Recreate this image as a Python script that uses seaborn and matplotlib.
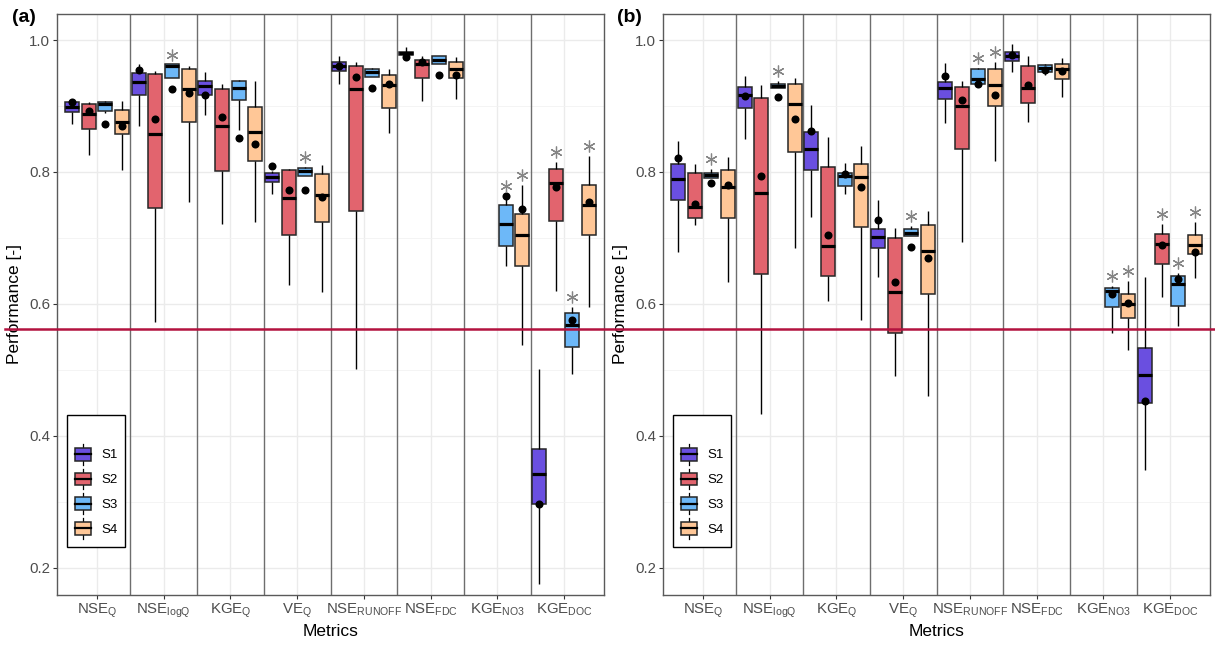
import numpy as np
import pandas as pd
import matplotlib
matplotlib.use("Agg")
import matplotlib.pyplot as plt
import seaborn as sns
from matplotlib.lines import Line2D
from matplotlib.patches import Rectangle
from matplotlib.legend_handler import HandlerBase
from matplotlib.ticker import MultipleLocator, FormatStrFormatter

nan = np.nan

metrics = ["NSE_Q", "NSE_logQ", "KGE_Q", "VE_Q", "NSE_RUNOFF", "NSE_FDC", "KGE_NO3", "KGE_DOC"]
metric_labels = ["NSE$_{Q}$", "NSE$_{logQ}$", "KGE$_{Q}$", "VE$_{Q}$",
                 "NSE$_{RUNOFF}$", "NSE$_{FDC}$", "KGE$_{NO3}$", "KGE$_{DOC}$"]
scenarios = ["S1", "S2", "S3", "S4"]
colors = ["#6A4FE0", "#E2646E", "#6DB8F8", "#FFC797"]

# ---- panel (a): five-number summaries per metric (rows) and scenario (columns)
a_low = [[.873, .826, .890, .803], [.869, .572, .943, .754], [.886, .721, .864, .724],
         [.767, .628, .794, .618], [.934, .501, .944, .859], [.975, .908, .963, .911],
         [nan, nan, .658, .538], [.176, .620, .4935, .595]]
a_q1 = [[.8905, .8656, .892, .857], [.917, .746, .943, .875], [.916, .802, .909, .816],
        [.785, .705, .794, .724], [.953, .741, .944, .897], [.977, .942, .963, .943],
        [nan, nan, .688, .657], [.2965, .726, .535, .705]]
a_med = [[.899, .888, .9026, .875], [.936, .857, .960, .926], [.931, .870, .928, .861],
         [.793, .761, .802, .765], [.960, .926, .952, .932], [.980, .963, .969, .956],
         [nan, nan, .721, .705], [.343, .784, .568, .750]]
a_q3 = [[.9056, .9026, .9056, .894], [.950, .948, .963, .956], [.938, .925, .938, .898],
        [.799, .803, .806, .797], [.966, .960, .956, .947], [.982, .970, .975, .966],
        [nan, nan, .750, .737], [.380, .804, .587, .780]]
a_high = [[.908, .906, .907, .908], [.963, .953, .963, .961], [.952, .933, .939, .938],
          [.801, .805, .807, .811], [.975, .966, .957, .956], [.989, .976, .976, .974],
          [nan, nan, .764, .780], [.5015, .815, .596, .824]]
a_mean = [[.906, .892, .873, .869], [.955, .881, .926, .920], [.917, .884, .852, .842],
          [.809, .772, .772, .762], [.961, .944, .928, .934], [.974, .966, .947, .947],
          [nan, nan, .764, .744], [.297, .777, .575, .755]]
a_signif = [[0, 0, 0, 0], [0, 0, 1, 0], [0, 0, 0, 0], [0, 0, 1, 0],
            [0, 0, 0, 0], [0, 0, 0, 0], [0, 0, 1, 1], [0, 1, 1, 1]]

# ---- panel (b)
b_low = [[.678, .719, .791, .634], [.850, .433, .927, .6844], [.7323, .6045, .766, .5758],
         [.641, .491, .703, .461], [.874, .6944, .934, .817], [.951, .875, .947, .913],
         [nan, nan, .5556, .530], [.3485, .611, .5671, .639]]
b_q1 = [[.757, .730, .791, .730], [.897, .646, .927, .831], [.8036, .643, .779, .7167],
        [.685, .5565, .703, .6157], [.910, .835, .934, .8995], [.9687, .904, .951, .941],
        [nan, nan, .596, .5783], [.4505, .6606, .597, .6758]]
b_med = [[.789, .7465, .795, .778], [.916, .768, .930, .9035], [.835, .6883, .7945, .792],
         [.7015, .6177, .707, .680], [.927, .900, .9404, .932], [.9758, .927, .957, .956],
         [nan, nan, .620, .600], [.4924, .6914, .6298, .690]]
b_q3 = [[.8126, .7985, .7985, .803], [.929, .912, .933, .933], [.860, .808, .7985, .8117],
        [.714, .6995, .7132, .719], [.936, .929, .956, .9556], [.982, .9606, .962, .963],
        [nan, nan, .6238, .6147], [.5338, .7056, .643, .7045]]
b_high = [[.8465, .8126, .804, .822], [.946, .932, .938, .943], [.9015, .8525, .813, .8394],
          [.757, .7152, .718, .7414], [.9657, .938, .957, .9667], [.9935, .976, .963, .9722],
          [nan, nan, .627, .635], [.641, .7207, .6474, .7247]]
b_mean = [[.821, .752, .783, .781], [.9157, .7945, .914, .881], [.8626, .7045, .797, .777],
          [.728, .6333, .687, .669], [.945, .909, .933, .917], [.977, .932, .9545, .953],
          [nan, nan, .615, .601], [.4535, .689, .6374, .6793]]
b_signif = [[0, 0, 1, 0], [0, 0, 1, 0], [0, 0, 0, 0], [0, 0, 1, 0],
            [0, 0, 1, 1], [0, 0, 0, 0], [0, 0, 1, 1], [0, 1, 1, 1]]

DODGE_WIDTH = 1.0          # total width shared by the four boxes of one metric
POINT_DODGE = DODGE_WIDTH * (len(scenarios) - 1) / len(scenarios)

plt.rcParams["font.family"] = ["Liberation Sans", "DejaVu Sans"]
plt.rcParams["mathtext.default"] = "regular"


def box_frame(low, q1, med, q3, high):
    rows = []
    for i, m in enumerate(metrics):
        for j, s in enumerate(scenarios):
            vals = [low[i][j], q1[i][j], med[i][j], q3[i][j], high[i][j]]
            if np.isnan(vals[0]):
                continue
            for v in vals:
                rows.append((m, s, v))
    return pd.DataFrame(rows, columns=["metric", "scenario", "value"])


def mean_frame(mean):
    rows = [(m, s, mean[i][j]) for i, m in enumerate(metrics)
            for j, s in enumerate(scenarios) if not np.isnan(mean[i][j])]
    return pd.DataFrame(rows, columns=["metric", "scenario", "value"])


class BoxHandler(HandlerBase):
    """Legend key drawn as a small box-and-whisker glyph."""
    def create_artists(self, legend, orig_handle, xdescent, ydescent,
                       width, height, fontsize, trans):
        x0, y0 = -xdescent, -ydescent
        cx = x0 + width / 2
        whisk = Line2D([cx, cx], [y0, y0 + height],
                       color="black", lw=0.9, transform=trans)
        rect = Rectangle((x0, y0 + 0.2 * height), width, 0.6 * height,
                         facecolor=orig_handle.get_facecolor(),
                         edgecolor="#262626", lw=1.1, transform=trans)
        med = Line2D([x0, x0 + width], [y0 + 0.5 * height] * 2,
                     color="black", lw=1.6, transform=trans)
        return [whisk, rect, med]


def draw_panel(ax, low, q1, med, q3, high, mean, signif):
    ax.set_axisbelow(True)
    palette = dict(zip(scenarios, colors))
    sns.boxplot(data=box_frame(low, q1, med, q3, high), x="metric", y="value",
                hue="scenario", order=metrics, hue_order=scenarios,
                palette=palette, saturation=1, width=DODGE_WIDTH, gap=0.16,
                whis=(0, 100), showcaps=False, linecolor="#262626", linewidth=1.1,
                medianprops=dict(color="black", linewidth=2.3),
                whiskerprops=dict(color="black", linewidth=1.0),
                legend=False, ax=ax)
    sns.pointplot(data=mean_frame(mean), x="metric", y="value", hue="scenario",
                  order=metrics, hue_order=scenarios,
                  palette={s: "black" for s in scenarios}, dodge=POINT_DODGE,
                  linestyle="none", markers="o", markersize=5.8,
                  markeredgewidth=0, errorbar=None, legend=False, ax=ax)

    # significance markers above the upper whisker
    slot = DODGE_WIDTH / len(scenarios)
    for i in range(len(metrics)):
        for j in range(len(scenarios)):
            if signif[i][j]:
                xpos = i - DODGE_WIDTH / 2 + slot * (j + 0.5)
                ax.plot(xpos, high[i][j] + 0.015, marker=(6, 2, 0), ms=8.5,
                        mew=0.9, color="#858585", linestyle="none", zorder=5)

    for k in range(len(metrics) - 1):
        ax.axvline(k + 0.5, color="#6E6E6E", lw=1.0, zorder=1)

    ax.set_xlim(-0.6, len(metrics) - 0.4)
    ax.set_ylim(0.159, 1.0394)
    ax.yaxis.set_major_locator(MultipleLocator(0.2))
    ax.yaxis.set_minor_locator(MultipleLocator(0.1))
    ax.yaxis.set_major_formatter(FormatStrFormatter("%.1f"))
    ax.set_xticks(range(len(metrics)))
    ax.set_xticklabels(metric_labels)
    ax.grid(which="major", color="#EBEBEB", lw=1.0)
    ax.grid(which="minor", axis="y", color="#F2F2F2", lw=0.6)
    ax.tick_params(which="major", length=3, width=0.8, color="#333333",
                   labelcolor="#4D4D4D", labelsize=10.8, pad=2)
    ax.tick_params(which="minor", length=0)
    for sp in ax.spines.values():
        sp.set_color("#5A5A5A")
        sp.set_linewidth(1.0)
    ax.set_xlabel("Metrics", fontsize=12.5, color="black", labelpad=3)
    ax.set_ylabel("Performance [-]", fontsize=12.5, color="black", labelpad=5)

    handles = [Rectangle((0, 0), 1, 1, facecolor=c) for c in colors]
    leg = ax.legend(handles, scenarios, handler_map={Rectangle: BoxHandler()},
                    loc="lower left", bbox_to_anchor=(0.018, 0.083),
                    borderaxespad=0, frameon=True, fancybox=False,
                    edgecolor="black", framealpha=1, fontsize=9.5,
                    title=" ", title_fontsize=14, borderpad=0.6,
                    labelspacing=0.28, handlelength=1.25, handleheight=2.07,
                    handletextpad=0.75)
    leg.get_frame().set_linewidth(1.0)


fig = plt.figure(figsize=(12.15, 6.48), dpi=100)
W, H = 1215, 648
ax_a = fig.add_axes([57 / W, 1 - 595 / H, 547 / W, 581 / H])
ax_b = fig.add_axes([663 / W, 1 - 595 / H, 547 / W, 581 / H])

draw_panel(ax_a, a_low, a_q1, a_med, a_q3, a_high, a_mean, a_signif)
draw_panel(ax_b, b_low, b_q1, b_med, b_q3, b_high, b_mean, b_signif)

fig.text(12 / W, 1 - 18 / H, "(a)", fontsize=14, fontweight="bold", va="center")
fig.text(617 / W, 1 - 18 / H, "(b)", fontsize=14, fontweight="bold", va="center")

# horizontal reference line across the whole figure
y_ref = 1 - 329 / H
fig.add_artist(Line2D([5 / W, 1.0], [y_ref, y_ref], transform=fig.transFigure,
                      color="#B3123F", lw=1.8, zorder=20))

fig.savefig("out.png", dpi=100)
